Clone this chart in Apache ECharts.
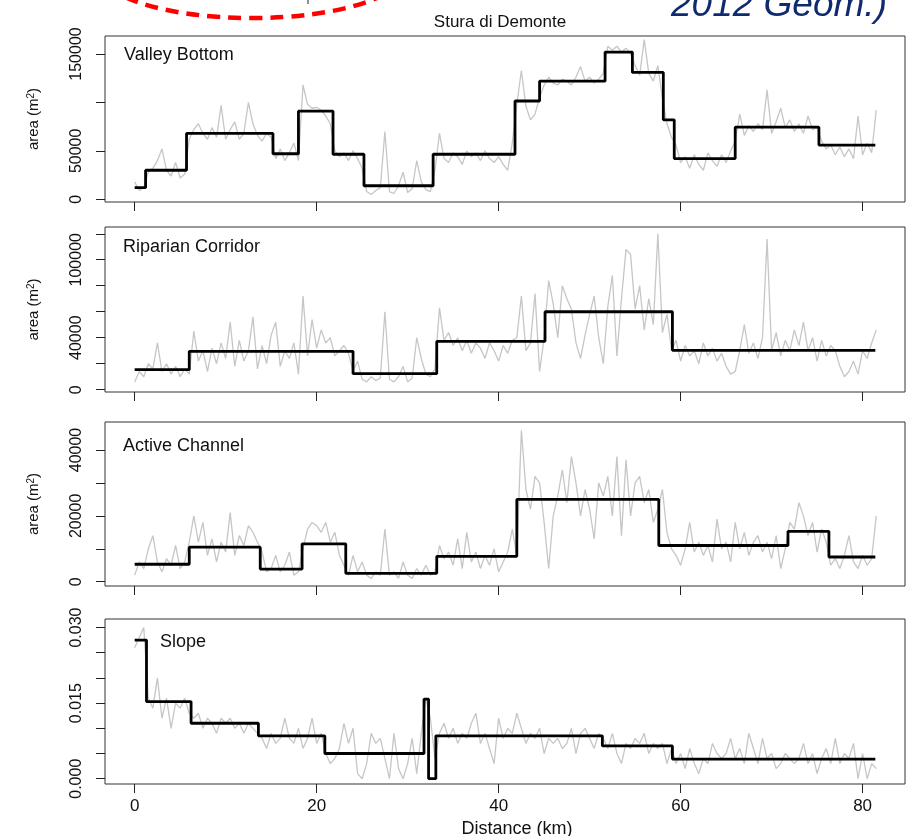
<!DOCTYPE html>
<html><head><meta charset="utf-8">
<script src="https://cdn.jsdelivr.net/npm/echarts@6/dist/echarts.min.js"></script>
<style>html,body{margin:0;padding:0;background:#fff}#c{width:912px;height:836px}</style>
</head><body><div id="c"></div>
<script>
// Distance along the river (km) at which the gray (raw) series were read
const distance = [0,0.5,1,1.5,2,2.5,3,3.5,4,4.5,5,5.5,6,6.5,7,7.5,8,8.5,9,9.5,10,10.5,11,11.5,12,12.5,13,13.5,14,14.5,15,15.5,16,16.5,17,17.5,18,18.5,19,19.5,20,20.5,21,21.5,22,22.5,23,23.5,24,24.5,25,25.5,26,26.5,27,27.5,28,28.5,29,29.5,30,30.5,31,31.5,32,32.5,33,33.5,34,34.5,35,35.5,36,36.5,37,37.5,38,38.5,39,39.5,40,40.5,41,41.5,42,42.5,43,43.5,44,44.5,45,45.5,46,46.5,47,47.5,48,48.5,49,49.5,50,50.5,51,51.5,52,52.5,53,53.5,54,54.5,55,55.5,56,56.5,57,57.5,58,58.5,59,59.5,60,60.5,61,61.5,62,62.5,63,63.5,64,64.5,65,65.5,66,66.5,67,67.5,68,68.5,69,69.5,70,70.5,71,71.5,72,72.5,73,73.5,74,74.5,75,75.5,76,76.5,77,77.5,78,78.5,79,79.5,80,80.5,81,81.5];

// Raw series (gray)
const valleyBottom = [
18000,9000,12000,28000,32000,40000,52000,30000,24000,38000,
22000,26000,62000,72000,78000,68000,62000,74000,64000,97000,
62000,72000,80000,62000,68000,100000,78000,66000,60000,68000,
64000,42000,52000,40000,48000,58000,40000,118000,98000,94000,
95000,92000,86000,78000,50000,44000,48000,40000,50000,42000,
32000,8000,5000,9000,12000,70000,8000,6000,14000,28000,
7000,11000,40000,18000,10000,8000,30000,68000,42000,38000,
48000,44000,36000,50000,44000,48000,40000,50000,42000,38000,
44000,36000,30000,58000,98000,133000,96000,82000,88000,105000,
118000,126000,120000,118000,124000,122000,118000,126000,137000,122000,
126000,120000,124000,130000,158000,154000,158000,152000,156000,150000,
138000,128000,165000,130000,122000,138000,104000,78000,64000,56000,
38000,44000,32000,46000,36000,30000,48000,40000,34000,46000,
38000,50000,60000,88000,66000,76000,70000,78000,72000,113000,
68000,80000,94000,74000,82000,70000,78000,68000,86000,72000,
74000,60000,52000,56000,46000,54000,44000,52000,42000,86000,
46000,58000,48000,92000];

const riparianCorridor = [
6000,14000,10000,20000,16000,36000,14000,20000,12000,18000,
10000,16000,12000,45000,22000,30000,14000,32000,20000,36000,
24000,52000,18000,38000,22000,30000,56000,16000,34000,20000,
42000,52000,18000,30000,24000,36000,12000,72000,26000,54000,
32000,46000,36000,40000,26000,30000,34000,28000,14000,22000,
8000,6000,10000,7000,9000,60000,8000,6000,10000,18000,
6000,9000,40000,24000,12000,10000,16000,63000,38000,44000,
34000,40000,30000,38000,28000,36000,32000,24000,36000,30000,
22000,34000,28000,38000,40000,72000,30000,36000,74000,14000,
40000,84000,66000,40000,80000,70000,62000,36000,24000,42000,
58000,72000,40000,20000,64000,88000,26000,70000,108000,104000,
62000,80000,46000,70000,50000,120000,44000,58000,30000,38000,
22000,34000,26000,30000,20000,36000,26000,32000,22000,28000,
18000,12000,14000,30000,50000,28000,36000,24000,40000,116000,
30000,44000,26000,38000,30000,46000,34000,52000,30000,40000,
22000,38000,26000,34000,30000,18000,10000,14000,22000,12000,
30000,24000,36000,46000];

const activeChannel = [
2000,6000,4000,10000,14000,6000,3000,7000,5000,11000,
4000,6000,12000,20000,12000,18000,8000,13000,6000,12000,
9000,21000,8000,14000,11000,17000,15000,12000,9000,3000,
4000,8000,3000,5000,9000,2000,3000,10000,16000,18000,
17000,15000,18000,12000,15000,8000,5000,2000,8000,3000,
6000,2000,1000,3000,2000,16000,2000,3000,1000,6000,
2000,1000,4000,2000,5000,2000,3000,11000,7000,9000,
5000,13000,4000,15000,6000,9000,4000,8000,5000,10000,
3000,6000,9000,16000,8000,46000,28000,22000,32000,30000,
18000,4000,20000,26000,34000,24000,38000,30000,20000,28000,
22000,13000,30000,26000,32000,20000,38000,14000,37000,20000,
30000,32000,24000,28000,18000,22000,28000,15000,10000,8000,
5000,10000,18000,9000,12000,8000,11000,6000,19000,10000,
12000,6000,18000,10000,15000,8000,12000,14000,9000,12000,
7000,14000,4000,10000,18000,16000,24000,20000,14000,18000,
9000,16000,12000,5000,7000,4000,8000,14000,6000,4000,
8000,5000,7000,20000];

const slope = [
0.026,0.028,0.030,0.016,0.014,0.020,0.012,0.016,0.010,0.015,
0.014,0.016,0.013,0.012,0.013,0.010,0.012,0.011,0.009,0.012,
0.011,0.012,0.010,0.011,0.009,0.011,0.010,0.009,0.008,0.006,
0.009,0.007,0.008,0.012,0.008,0.007,0.010,0.006,0.008,0.012,
0.007,0.009,0.005,0.003,0.004,0.006,0.011,0.007,0.010,0.001,
0.000,0.003,0.009,0.007,0.008,0.004,0.000,0.009,0.002,0.000,
0.003,0.008,0.001,0.009,0.016,0.012,0.004,0.009,0.011,0.008,
0.010,0.007,0.009,0.008,0.011,0.013,0.007,0.009,0.006,0.003,
0.012,0.008,0.010,0.009,0.013,0.010,0.007,0.009,0.008,0.010,
0.005,0.008,0.007,0.008,0.006,0.007,0.010,0.005,0.009,0.010,
0.008,0.006,0.009,0.008,0.006,0.009,0.005,0.003,0.007,0.006,
0.008,0.007,0.009,0.005,0.007,0.006,0.007,0.003,0.006,0.003,
0.005,0.002,0.006,0.003,0.001,0.004,0.003,0.007,0.005,0.004,
0.005,0.008,0.004,0.006,0.003,0.009,0.006,0.003,0.008,0.004,
0.005,0.002,0.003,0.005,0.004,0.003,0.004,0.007,0.003,0.005,
0.001,0.004,0.006,0.003,0.008,0.003,0.005,0.004,0.007,0.000,
0.005,0.000,0.003,0.002];

// Segment (step) series: value holds from breakpoint to next breakpoint
const valleyStepX = [0, 1.2, 5.7, 15.2, 18.0, 21.8, 25.2, 32.8, 41.8, 44.5, 51.7, 54.7, 58.1, 59.3, 66.0, 75.2, 81.4];
const valleyStepY = [12000, 30000, 68000, 47000, 91000, 46500, 14000, 46500, 101500, 122000, 152000, 131000, 82000, 42000, 74500, 56000, 56000];
const riparianStepX = [0, 6.0, 24.0, 33.2, 45.1, 59.1, 81.4];
const riparianStepY = [15400, 29500, 12300, 37200, 60000, 30300, 30300];
const activeStepX = [0, 6.0, 13.8, 18.4, 23.2, 33.2, 42.0, 57.6, 71.8, 76.3, 81.4];
const activeStepY = [5300, 10500, 3850, 11500, 2550, 7700, 25000, 11000, 15300, 7500, 7500];
const slopeStepX = [0, 1.3, 6.2, 13.6, 20.9, 31.8, 32.3, 33.1, 51.4, 59.1, 81.4];
const slopeStepY = [0.0275, 0.0153, 0.011, 0.0085, 0.005, 0.0158, 0, 0.0085, 0.0065, 0.0039, 0.0039];

// Axis ticks and labels
const xTicks = [0, 20, 40, 60, 80];
const valleyTicks = [0, 50000, 100000, 150000];
const valleyLabels = [0, 50000, 150000];
const riparianTicks = [0, 20000, 40000, 60000, 80000, 100000, 120000];
const riparianLabels = [0, 40000, 100000];
const activeTicks = [0, 10000, 20000, 30000, 40000];
const activeLabels = [0, 20000, 40000];
const slopeTicks = [0, 0.005, 0.010, 0.015, 0.020, 0.025, 0.030];
const slopeLabels = [0, 0.015, 0.030];

const panelNames = ['Valley Bottom', 'Riparian Corridor', 'Active Channel', 'Slope'];
const title = 'Stura di Demonte';
const xTitle = 'Distance (km)';

const FONT = '"Liberation Sans", Arial, Helvetica, sans-serif';

const panels = [
  {gray: valleyBottom, sx: valleyStepX, sy: valleyStepY, top: 36, height: 166, min: -2800, max: 168600, ticks: valleyTicks, labels: valleyLabels, fmt: v => String(v), lab: [124, 55], ytitle: true},
  {gray: riparianCorridor, sx: riparianStepX, sy: riparianStepY, top: 227, height: 165, min: -1770, max: 125200, ticks: riparianTicks, labels: riparianLabels, fmt: v => String(v), lab: [123, 247], ytitle: true},
  {gray: activeChannel, sx: activeStepX, sy: activeStepY, top: 422, height: 164, min: -1300, max: 48500, ticks: activeTicks, labels: activeLabels, fmt: v => String(v), lab: [123, 446], ytitle: true},
  {gray: slope, sx: slopeStepX, sy: slopeStepY, top: 619, height: 165, min: -0.00105, max: 0.03169, ticks: slopeTicks, labels: slopeLabels, fmt: v => Number(v).toFixed(3), lab: [160, 642], ytitle: false}
];

const grids = [], xAxes = [], yAxes = [], series = [], graphics = [];
panels.forEach((p, i) => {
  grids.push({left: 105, width: 800, top: p.top, height: p.height, show: true, borderColor: '#333', borderWidth: 1, backgroundColor: 'transparent'});
  xAxes.push({
    type: 'value', gridIndex: i, min: -3.26, max: 84.66, position: 'bottom',
    axisLine: {show: false, onZero: false},
    axisTick: {show: true, inside: false, length: 9, customValues: xTicks, lineStyle: {color: '#222', width: 1}},
    axisLabel: {show: i === 3, customValues: xTicks, margin: 14, fontSize: 17, color: '#111', fontFamily: FONT},
    splitLine: {show: false}
  });
  yAxes.push({
    type: 'value', gridIndex: i, min: p.min, max: p.max, position: 'left',
    axisLine: {show: false, onZero: false},
    axisTick: {show: true, inside: false, length: 9, customValues: p.ticks, lineStyle: {color: '#222', width: 1}},
    axisLabel: {show: true, customValues: p.labels, rotate: 90, margin: 20, fontSize: 16, color: '#111', fontFamily: FONT, formatter: p.fmt},
    splitLine: {show: false}
  });
  series.push({
    type: 'line', xAxisIndex: i, yAxisIndex: i, symbol: 'none', silent: true,
    data: distance.map((d, k) => [d, p.gray[k]]),
    lineStyle: {color: '#c6c6c6', width: 1.3}, z: 2
  });
  series.push({
    type: 'line', xAxisIndex: i, yAxisIndex: i, symbol: 'none', silent: true, step: 'end',
    data: p.sx.map((d, k) => [d, p.sy[k]]),
    lineStyle: {color: '#000', width: 2.8}, z: 3
  });
  graphics.push({type: 'text', x: p.lab[0], y: p.lab[1], style: {text: panelNames[i], font: '18px ' + FONT, fill: '#111', align: 'left', verticalAlign: 'middle'}});
  if (p.ytitle) {
    graphics.push({type: 'text', x: 34, y: p.top + p.height / 2, rotation: Math.PI / 2,
      style: {text: '{a|area (m}{s|2}{a|)}', align: 'center', verticalAlign: 'middle',
        rich: {a: {fontSize: 15, fontFamily: FONT, fill: '#111', color: '#111'}, s: {fontSize: 10, fontFamily: FONT, verticalAlign: 'top', color: '#111', fill: '#111'}}}});
  }
});

graphics.push({type: 'text', x: 500, y: 22, style: {text: title, font: '17px ' + FONT, fill: '#111', align: 'center', verticalAlign: 'middle'}});
graphics.push({type: 'text', x: 517, y: 829, style: {text: xTitle, font: '18px ' + FONT, fill: '#111', align: 'center', verticalAlign: 'middle'}});
graphics.push({type: 'ellipse', shape: {cx: 252, cy: -27, rx: 150, ry: 45}, style: {fill: 'none', stroke: '#ff0000', lineWidth: 4.5, lineDash: [13, 8]}});
graphics.push({type: 'line', shape: {x1: 308, y1: 0, x2: 308, y2: 4}, style: {stroke: '#222', lineWidth: 1}});
graphics.push({type: 'text', x: 671, y: 6, style: {text: '2012 Geom.)', font: 'italic 37px ' + FONT, fill: '#0f2a6e', align: 'left', verticalAlign: 'middle'}});

const chart = echarts.init(document.getElementById('c'), null, {renderer: 'canvas'});
chart.setOption({
  animation: false,
  backgroundColor: '#fff',
  grid: grids, xAxis: xAxes, yAxis: yAxes, series: series,
  graphic: {elements: graphics}
});
</script></body></html>
